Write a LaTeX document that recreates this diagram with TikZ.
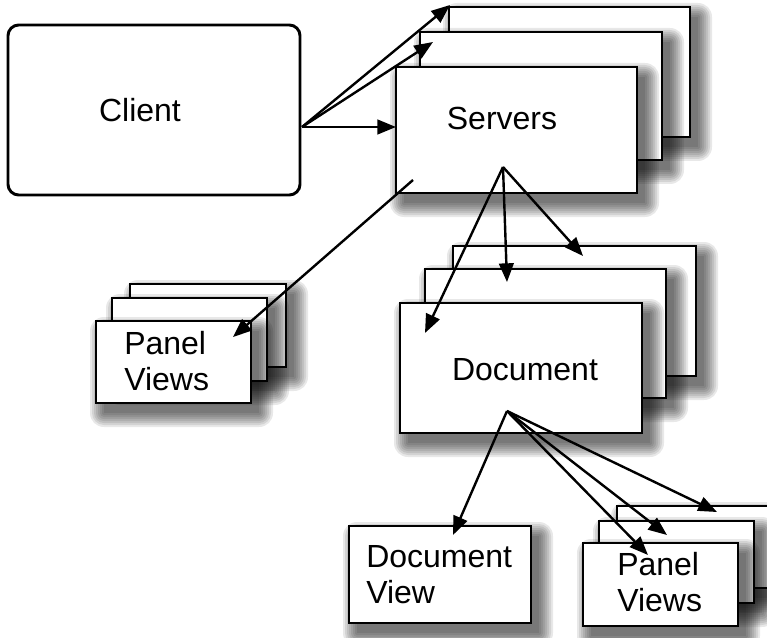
\documentclass[tikz,border=0pt]{standalone}
\usepackage{fontspec}
\setmainfont{Liberation Sans}
\usetikzlibrary{arrows.meta,fit}
\newcommand\shbox[5]{%
  \foreach \r in {14,12,10,8,6,4,2,0}{%
    \fill[black, opacity=0.09, rounded corners=\r*0.75pt] ({#2+8-\r},{#3+10-\r}) rectangle ({#4+8+\r},{#5+10+\r});}
  \node[box, fit={(#2,#3) (#4,#5)}] (#1) {};}
\begin{document}
\begin{tikzpicture}[x=0.75pt,y=-0.75pt,
  box/.style={draw, line width=2.2pt, fill=white, inner sep=0pt},
  lbl/.style={font=\fontsize{24}{27}\selectfont, inner sep=0pt, align=left},
  arr/.style={line width=1.8pt, -{Triangle[length=14pt,width=11pt]}}]
\useasboundingbox (0,0) rectangle (767,638);
% Client
\node[draw, line width=2.2pt, rounded corners=8pt, inner sep=0pt, fit={(8,25) (300,195)}] (client) {};
\node[lbl] (clientlbl) at (140,110) {Client};
% Servers
\shbox{srv3}{449}{7}{690}{137}
\shbox{srv2}{420}{32}{662}{160}
\shbox{srv1}{396}{67}{637}{193}
\node[lbl] (srvlbl) at (502,118) {Servers};
% Panel views (left)
\shbox{plA3}{130}{284}{286}{367}
\shbox{plA2}{112}{298}{267}{381}
\shbox{plA1}{96}{321}{251}{403}
\node[lbl, anchor=west] (plAlbl) at (124,361.5) {Panel\\Views};
% Document
\shbox{doc3}{453}{246}{696}{376}
\shbox{doc2}{425}{269}{666}{398}
\shbox{doc1}{400}{303}{642}{433}
\node[lbl] (doclbl) at (525,370) {Document};
% Document view
\shbox{dv}{349}{526}{531}{623}
\node[lbl, anchor=west] (dvlbl) at (366,575) {Document\\View};
% Panel views (right)
\shbox{plB3}{617}{506}{790}{588}
\shbox{plB2}{599}{521}{754}{603}
\shbox{plB1}{583}{543}{738}{626}
\node[lbl, anchor=west] (plBlbl) at (617,582.5) {Panel\\Views};
% connector end points
\coordinate (cs) at (302,127);
\coordinate (s1) at (396,127);
\coordinate (s2) at (433,42);
\coordinate (s3) at (450,5);
\coordinate (ps) at (413,180);
\coordinate (pe) at (233,337);
\coordinate (fs) at (503,167);
\coordinate (d1) at (425,333);
\coordinate (d2) at (507,282);
\coordinate (d3) at (583,256);
\coordinate (gs) at (507,411);
\coordinate (v0) at (453,535);
\coordinate (v1) at (648,555);
\coordinate (v2) at (667,535);
\coordinate (v3) at (717,512);
% connectors
\draw[arr] (cs) -- (s1);
\draw[arr] (cs) -- (s2);
\draw[arr] (cs) -- (s3);
\draw[arr] (ps) -- (pe);
\draw[arr] (fs) -- (d1);
\draw[arr] (fs) -- (d2);
\draw[arr] (fs) -- (d3);
\draw[arr] (gs) -- (v0);
\draw[arr] (gs) -- (v1);
\draw[arr] (gs) -- (v2);
\draw[arr] (gs) -- (v3);
\end{tikzpicture}
\end{document}
